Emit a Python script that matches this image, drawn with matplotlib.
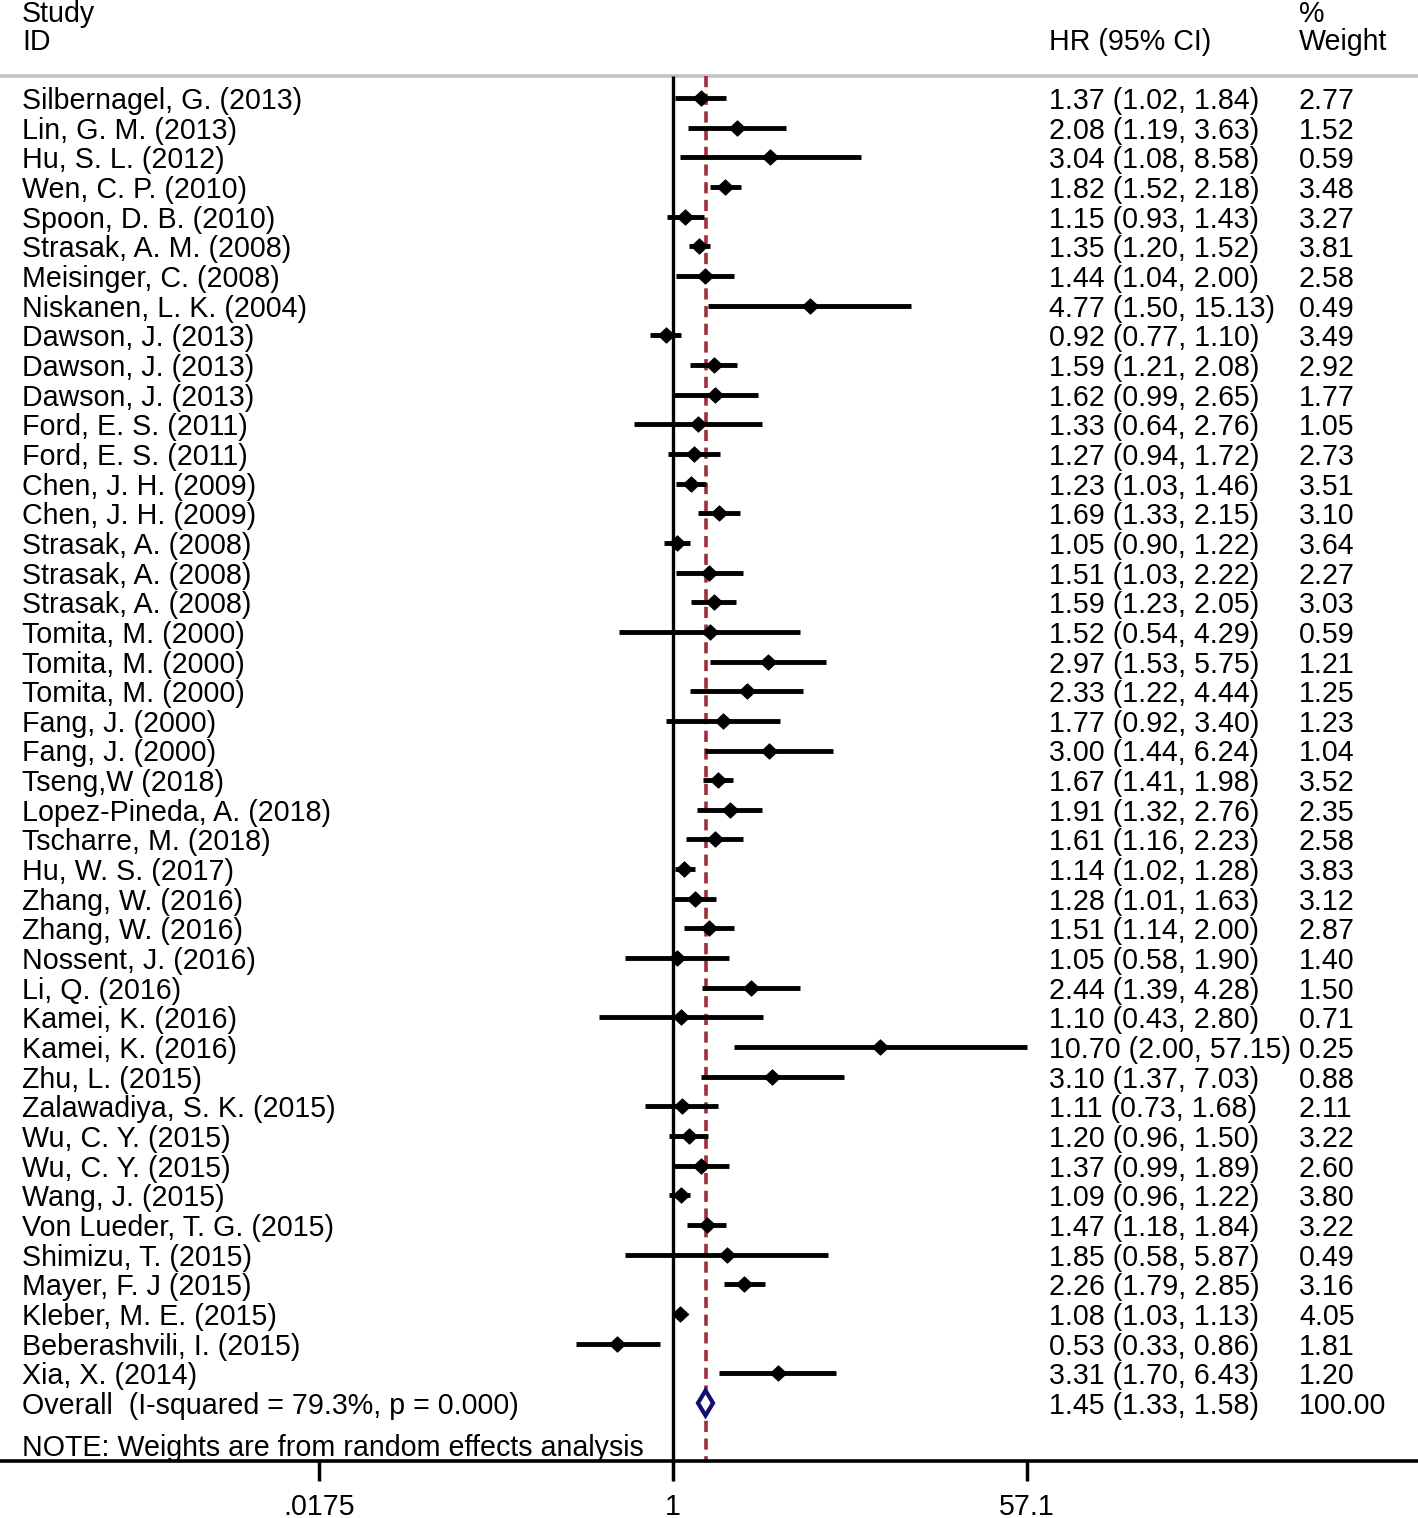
import numpy as np
import matplotlib
matplotlib.use("Agg")
import matplotlib.pyplot as plt
from matplotlib.path import Path
from matplotlib.patches import Polygon
import matplotlib.transforms as mtransforms
from matplotlib.ticker import NullLocator

# ---------------- data ----------------
studies = [
    "Silbernagel, G. (2013)", "Lin, G. M. (2013)", "Hu, S. L. (2012)", "Wen, C. P. (2010)",
    "Spoon, D. B. (2010)", "Strasak, A. M. (2008)", "Meisinger, C. (2008)", "Niskanen, L. K. (2004)",
    "Dawson, J. (2013)", "Dawson, J. (2013)", "Dawson, J. (2013)", "Ford, E. S. (2011)",
    "Ford, E. S. (2011)", "Chen, J. H. (2009)", "Chen, J. H. (2009)", "Strasak, A. (2008)",
    "Strasak, A. (2008)", "Strasak, A. (2008)", "Tomita, M. (2000)", "Tomita, M. (2000)",
    "Tomita, M. (2000)", "Fang, J. (2000)", "Fang, J. (2000)", "Tseng,W (2018)",
    "Lopez-Pineda, A. (2018)", "Tscharre, M. (2018)", "Hu, W. S. (2017)", "Zhang, W. (2016)",
    "Zhang, W. (2016)", "Nossent, J. (2016)", "Li, Q. (2016)", "Kamei, K. (2016)",
    "Kamei, K. (2016)", "Zhu, L. (2015)", "Zalawadiya, S. K. (2015)", "Wu, C. Y. (2015)",
    "Wu, C. Y. (2015)", "Wang, J. (2015)", "Von Lueder, T. G. (2015)", "Shimizu, T. (2015)",
    "Mayer, F. J (2015)", "Kleber, M. E. (2015)", "Beberashvili, I. (2015)", "Xia, X. (2014)",
]
hr = [1.37, 2.08, 3.04, 1.82, 1.15, 1.35, 1.44, 4.77, 0.92, 1.59, 1.62, 1.33, 1.27, 1.23, 1.69,
      1.05, 1.51, 1.59, 1.52, 2.97, 2.33, 1.77, 3.00, 1.67, 1.91, 1.61, 1.14, 1.28, 1.51, 1.05,
      2.44, 1.10, 10.70, 3.10, 1.11, 1.20, 1.37, 1.09, 1.47, 1.85, 2.26, 1.08, 0.53, 3.31]
ci_low = [1.02, 1.19, 1.08, 1.52, 0.93, 1.20, 1.04, 1.50, 0.77, 1.21, 0.99, 0.64, 0.94, 1.03, 1.33,
          0.90, 1.03, 1.23, 0.54, 1.53, 1.22, 0.92, 1.44, 1.41, 1.32, 1.16, 1.02, 1.01, 1.14, 0.58,
          1.39, 0.43, 2.00, 1.37, 0.73, 0.96, 0.99, 0.96, 1.18, 0.58, 1.79, 1.03, 0.33, 1.70]
ci_high = [1.84, 3.63, 8.58, 2.18, 1.43, 1.52, 2.00, 15.13, 1.10, 2.08, 2.65, 2.76, 1.72, 1.46, 2.15,
           1.22, 2.22, 2.05, 4.29, 5.75, 4.44, 3.40, 6.24, 1.98, 2.76, 2.23, 1.28, 1.63, 2.00, 1.90,
           4.28, 2.80, 57.15, 7.03, 1.68, 1.50, 1.89, 1.22, 1.84, 5.87, 2.85, 1.13, 0.86, 6.43]
weights = [2.77, 1.52, 0.59, 3.48, 3.27, 3.81, 2.58, 0.49, 3.49, 2.92, 1.77, 1.05, 2.73, 3.51, 3.10,
           3.64, 2.27, 3.03, 0.59, 1.21, 1.25, 1.23, 1.04, 3.52, 2.35, 2.58, 3.83, 3.12, 2.87, 1.40,
           1.50, 0.71, 0.25, 0.88, 2.11, 3.22, 2.60, 3.80, 3.22, 0.49, 3.16, 4.05, 1.81, 1.20]

overall_label = "Overall  (I-squared = 79.3%, p = 0.000)"
overall_hr, overall_low, overall_high, overall_weight = 1.45, 1.33, 1.58, 100.00
note_text = "NOTE: Weights are from random effects analysis"
x_ticks = [0.0175, 1, 57.1]
x_ticklabels = [".0175", "1", "57.1"]
header_left = ["Study", "ID"]
header_es = "HR (95% CI)"
header_w = ["%", "Weight"]

# ---------------- layout ----------------
plt.rcParams["font.family"] = ["Liberation Sans", "DejaVu Sans"]
FS = 20.6
W, H, DPI = 1418, 1518, 100
fig = plt.figure(figsize=(W / DPI, H / DPI), dpi=DPI)
axis_px = 1461
ax = fig.add_axes([0, (H - axis_px) / H, 1, axis_px / H])

ax.set_xscale("log")
s = 354 / np.log(57.1)        # pixels per log unit
x_null_px = 673
ax.set_xlim(np.exp(-x_null_px / s), np.exp((W - x_null_px) / s))

row0, dy = 98.0, 29.66
def py(px):
    return (px - row0) / dy
ax.set_ylim(py(axis_px), py(0))

for sp in ["top", "left", "right"]:
    ax.spines[sp].set_visible(False)
ax.spines["bottom"].set_linewidth(2.6)
ax.set_yticks([])
ax.set_xticks(x_ticks)
ax.set_xticklabels(x_ticklabels)
ax.xaxis.set_minor_locator(NullLocator())
ax.tick_params(axis="x", direction="out", length=14.5, width=2.5, pad=8.5,
               labelsize=FS, colors="black")

trans = mtransforms.blended_transform_factory(ax.transAxes, ax.transData)
x_lab, x_es, x_w = 22 / W, 1049 / W, 1299 / W
base_off = 0.37

# header
ax.text(x_lab, py(22), header_left[0], transform=trans, fontsize=FS, va="baseline")
ax.text(x_lab, py(50), header_left[1], transform=trans, fontsize=FS, va="baseline")
ax.text(x_es, py(50), header_es, transform=trans, fontsize=FS, va="baseline")
ax.text(x_w, py(22), header_w[0], transform=trans, fontsize=FS, va="baseline")
ax.text(x_w, py(50), header_w[1], transform=trans, fontsize=FS, va="baseline")
ax.axhline(py(76), color="#c4c4c4", lw=2.6, zorder=1)

n = len(studies)
y_top_line = py(76)
ax.plot([1, 1], [y_top_line, py(axis_px)], color="black", lw=2.4, zorder=2,
        solid_capstyle="butt")
ax.plot([overall_hr, overall_hr], [y_top_line, py(axis_px)], color="#9e2f3a", lw=2.6,
        dashes=(3.1, 1.8), zorder=2)

diamond = Path([(0, 0.93), (1, 0), (0, -0.93), (-1, 0), (0, 0.93)],
               [Path.MOVETO, Path.LINETO, Path.LINETO, Path.LINETO, Path.CLOSEPOLY])

for i in range(n):
    ax.plot([ci_low[i], ci_high[i]], [i, i], color="black", lw=3.5,
            solid_capstyle="butt", zorder=3)
    ax.plot([hr[i]], [i], marker=diamond, ms=12.0, color="black", mew=0.6, zorder=4)
    ax.text(x_lab, i + base_off, studies[i], transform=trans, fontsize=FS, va="baseline")
    ax.text(x_es, i + base_off, f"{hr[i]:.2f} ({ci_low[i]:.2f}, {ci_high[i]:.2f})",
            transform=trans, fontsize=FS, va="baseline")
    ax.text(x_w, i + base_off, f"{weights[i]:.2f}", transform=trans, fontsize=FS, va="baseline")

# overall
yo = n
hh = 0.42
ax.add_patch(Polygon([(overall_low, yo), (overall_hr, yo - hh), (overall_high, yo),
                      (overall_hr, yo + hh)], closed=True, fill=True, facecolor="white",
                     edgecolor="#10106e", lw=3.0, joinstyle="miter", zorder=5))
ax.text(x_lab, yo + base_off, overall_label, transform=trans, fontsize=FS, va="baseline")
ax.text(x_es, yo + base_off, f"{overall_hr:.2f} ({overall_low:.2f}, {overall_high:.2f})",
        transform=trans, fontsize=FS, va="baseline")
ax.text(x_w, yo + base_off, f"{overall_weight:.2f}", transform=trans, fontsize=FS, va="baseline")

ax.text(x_lab, py(1456), note_text, transform=trans, fontsize=FS, va="baseline")

fig.savefig("out.png", dpi=DPI, facecolor="white")
